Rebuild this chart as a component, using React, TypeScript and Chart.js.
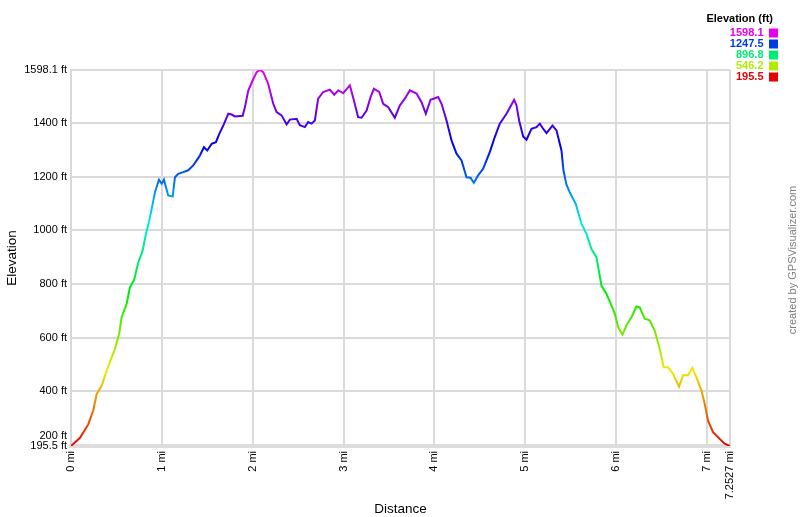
import { useEffect, useRef } from "react";
import { Chart, registerables } from "chart.js";
Chart.register(...registerables);

const distances = [0, 0.099, 0.19, 0.245, 0.283, 0.338, 0.393, 0.448, 0.484, 0.53, 0.557, 0.613, 0.649, 0.693, 0.741, 0.789, 0.825, 0.862, 0.906, 0.924, 0.968, 0.998, 1.023, 1.045, 1.07, 1.119, 1.144, 1.18, 1.235, 1.29, 1.345, 1.383, 1.419, 1.463, 1.5, 1.548, 1.595, 1.632, 1.676, 1.731, 1.768, 1.804, 1.889, 1.914, 1.951, 1.999, 2.043, 2.079, 2.116, 2.17, 2.226, 2.263, 2.318, 2.373, 2.409, 2.483, 2.519, 2.574, 2.61, 2.648, 2.684, 2.72, 2.776, 2.849, 2.897, 2.941, 2.996, 3.069, 3.113, 3.16, 3.198, 3.253, 3.297, 3.333, 3.392, 3.436, 3.491, 3.564, 3.619, 3.674, 3.729, 3.803, 3.858, 3.905, 3.957, 4.041, 4.078, 4.133, 4.188, 4.243, 4.298, 4.353, 4.397, 4.433, 4.481, 4.536, 4.609, 4.664, 4.719, 4.793, 4.877, 4.903, 4.932, 4.976, 5.013, 5.068, 5.123, 5.16, 5.196, 5.233, 5.299, 5.343, 5.398, 5.42, 5.453, 5.489, 5.555, 5.618, 5.673, 5.728, 5.783, 5.838, 5.893, 5.948, 5.985, 6.021, 6.069, 6.113, 6.168, 6.223, 6.259, 6.314, 6.369, 6.424, 6.479, 6.523, 6.571, 6.626, 6.692, 6.736, 6.791, 6.839, 6.883, 6.938, 6.974, 7.011, 7.066, 7.139, 7.194, 7.2527];

const elevations = [195.5, 226, 276, 328, 390, 421, 477, 527, 558, 614, 676, 726, 788, 813, 881, 925, 987, 1037, 1111, 1142, 1189, 1174, 1189, 1161, 1130, 1126, 1198, 1211, 1217, 1224, 1242, 1261, 1279, 1310, 1298, 1323, 1329, 1360, 1391, 1435, 1432, 1425, 1427, 1459, 1521, 1559, 1590, 1598.1, 1590, 1547, 1472, 1441, 1429, 1395, 1413, 1416, 1392, 1385, 1404, 1398, 1410, 1491, 1516, 1525, 1506, 1522, 1512, 1541, 1485, 1422, 1420, 1447, 1497, 1528, 1516, 1472, 1459, 1420, 1466, 1491, 1522, 1510, 1478, 1435, 1487, 1497, 1472, 1410, 1335, 1286, 1261, 1198, 1196, 1177, 1205, 1230, 1292, 1348, 1398, 1435, 1487, 1466, 1410, 1350, 1338, 1379, 1385, 1398, 1379, 1363, 1391, 1373, 1298, 1223, 1170, 1142, 1099, 1025, 987, 930, 900, 794, 763, 720, 689, 639, 611, 645, 676, 716, 713, 670, 664, 626, 558, 489, 489, 465, 417, 459, 459, 487, 452, 403, 353, 290, 247, 222, 204, 195.5];

const xTickValues = [0, 1, 2, 3, 4, 5, 6, 7, 7.2527];
const yTickValues = [195.5, 200, 400, 600, 800, 1000, 1200, 1400, 1598.1];
const legendValues = [1598.1, 1247.5, 896.8, 546.2, 195.5];
const minElev = 195.5;
const maxElev = 1598.1;

const FONT = '"Liberation Sans", Arial, Helvetica, sans-serif';

function elevColor(v: number) {
  const t = Math.max(0, Math.min(1, (v - minElev) / (maxElev - minElev)));
  return `hsl(${300 * t}, 100%, 46%)`;
}

const extrasPlugin = {
  id: "extras",
  afterDraw(chart: any) {
    const c = chart.ctx;
    c.save();
    c.font = `bold 11px ${FONT}`;
    c.fillStyle = "#000";
    c.textAlign = "right";
    c.textBaseline = "middle";
    c.fillText("Elevation (ft)", 773, 19);
    legendValues.forEach((v, i) => {
      const y = 33 + i * 11;
      c.fillStyle = elevColor(v);
      c.fillText(v.toFixed(1), 763.5, y);
      c.fillRect(769, y - 4.5, 9, 9);
    });
    c.font = `11px ${FONT}`;
    c.fillStyle = "#808080";
    c.textAlign = "center";
    c.translate(793, 260);
    c.rotate(-Math.PI / 2);
    c.fillText("created by GPSVisualizer.com", 0, 0);
    c.restore();
  },
};

export default function App() {
  const ref = useRef<HTMLCanvasElement>(null);
  useEffect(() => {
    if (!ref.current) return;
    const chart = new Chart(ref.current, {
      type: "line",
      data: {
        datasets: [
          {
            data: distances.map((d, i) => ({ x: d, y: elevations[i] })),
            borderWidth: 2,
            pointRadius: 0,
            tension: 0,
            fill: false,
            borderColor: (ctx: any) => {
              const ch = ctx.chart;
              if (!ch.chartArea) return elevColor(minElev);
              const ys = ch.scales.y;
              const y0 = ys.getPixelForValue(minElev);
              const y1 = ys.getPixelForValue(maxElev);
              const g = ch.ctx.createLinearGradient(0, y0, 0, y1);
              for (let i = 0; i <= 30; i++) {
                const t = i / 30;
                g.addColorStop(t, elevColor(minElev + t * (maxElev - minElev)));
              }
              return g;
            },
          },
        ],
      },
      options: {
        responsive: false,
        animation: false,
        layout: { padding: { top: 70, right: 70, left: 0, bottom: 0 } },
        plugins: { legend: { display: false }, tooltip: { enabled: false } },
        scales: {
          x: {
            type: "linear",
            min: 0,
            max: 7.2527,
            afterBuildTicks: (s: any) => {
              s.ticks = xTickValues.map((v) => ({ value: v }));
            },
            afterFit: (s: any) => {
              s.height = 71;
            },
            grid: { color: "#dadada", lineWidth: 2, drawTicks: false },
            border: { color: "#dddddd", width: 4 },
            ticks: {
              autoSkip: false,
              minRotation: 90,
              maxRotation: 90,
              padding: 5,
              color: "#000",
              font: { family: FONT, size: 11 },
              callback: (v: any) => `${v} mi`,
            },
            title: {
              display: true,
              text: "Distance",
              color: "#000",
              font: { family: FONT, size: 13.5 },
              padding: { top: 1, bottom: 0 },
            },
          },
          y: {
            type: "linear",
            min: minElev,
            max: maxElev,
            afterBuildTicks: (s: any) => {
              s.ticks = yTickValues.map((v) => ({ value: v }));
            },
            afterFit: (s: any) => {
              s.width = 71;
            },
            grid: { color: "#dadada", lineWidth: 2, drawTicks: false },
            border: { color: "#d8d8d8", width: 2 },
            ticks: {
              autoSkip: false,
              padding: 4,
              color: "#000",
              font: { family: FONT, size: 11, lineHeight: 1.6 },
              callback: (v: any) => (v === 200 ? ["200 ft", ""] : `${v} ft`),
            },
            title: {
              display: true,
              text: "Elevation",
              color: "#000",
              font: { family: FONT, size: 13.5 },
              padding: { top: 4, bottom: 0 },
            },
          },
        },
      },
      plugins: [extrasPlugin],
    });
    return () => chart.destroy();
  }, []);
  return (
    <div style={{ position: "fixed", left: 0, top: 0, width: 800, height: 517, background: "#fff" }}>
      <canvas ref={ref} width={800} height={517} />
    </div>
  );
}
